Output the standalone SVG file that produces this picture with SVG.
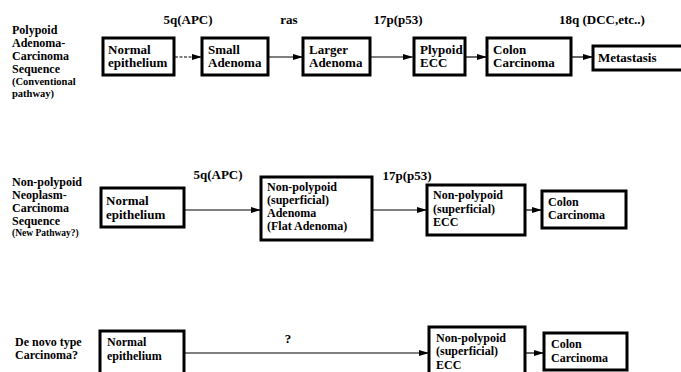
<svg xmlns="http://www.w3.org/2000/svg" width="681" height="372" viewBox="0 0 681 372">
<defs>
<marker id="ah" markerWidth="10" markerHeight="6" refX="10" refY="3" orient="auto" markerUnits="userSpaceOnUse">
<path d="M0,0 L10,3 L0,6 Z" fill="#000"/>
</marker>
<style>
text{font-family:"Liberation Serif","Times New Roman",serif;font-weight:bold;font-size:12px;fill:#000}
.lg{font-size:13px}
.sm{font-size:10.5px}
.xs{font-size:9.5px}
.box{fill:#fff;stroke:#000;stroke-width:3}
.ln{stroke:#000;stroke-width:1.2;fill:none;marker-end:url(#ah)}
</style>
</defs>
<rect width="681" height="372" fill="#fff"/>

<!-- Row labels -->
<g id="label-row1">
<text x="12" y="34">Polypoid</text>
<text x="12" y="47">Adenoma-</text>
<text x="12" y="60">Carcinoma</text>
<text x="12" y="73">Sequence</text>
<text x="12" y="85" class="sm">(Conventional</text>
<text x="12" y="97" class="sm">pathway)</text>
</g>
<g id="label-row2">
<text x="12" y="186">Non-polypoid</text>
<text x="12" y="199">Neoplasm-</text>
<text x="12" y="212">Carcinoma</text>
<text x="12" y="225">Sequence</text>
<text x="12" y="236" class="xs">(New Pathway?)</text>
</g>
<g id="label-row3">
<text x="15" y="346">De novo type</text>
<text x="15" y="359">Carcinoma?</text>
</g>

<!-- Connectors -->
<g id="connectors">
<line x1="175" y1="57" x2="202" y2="57" class="ln" stroke-dasharray="3,1.5"/>
<line x1="268" y1="57" x2="303" y2="57" class="ln" stroke="#777"/>
<line x1="370" y1="57" x2="413" y2="57" class="ln"/>
<line x1="466" y1="57" x2="487" y2="57" class="ln"/>
<line x1="572" y1="57" x2="593" y2="57" class="ln"/>
<line x1="185" y1="210" x2="261" y2="210" class="ln"/>
<line x1="373" y1="210" x2="427" y2="210" class="ln"/>
<line x1="526" y1="210" x2="542" y2="210" class="ln"/>
<line x1="185" y1="353" x2="429" y2="353" class="ln"/>
<line x1="526" y1="353" x2="544" y2="353" class="ln"/>
</g>

<!-- Connector labels -->
<g id="mutation-labels">
<text x="188" y="24" text-anchor="middle" class="lg">5q(APC)</text>
<text x="289" y="24" text-anchor="middle" class="lg">ras</text>
<text x="398" y="24" text-anchor="middle" class="lg">17p(p53)</text>
<text x="602" y="24" text-anchor="middle" class="lg">18q (DCC,etc..)</text>
<text x="218" y="179" text-anchor="middle" class="lg">5q(APC)</text>
<text x="407" y="180" text-anchor="middle" class="lg">17p(p53)</text>
<text x="288" y="343" text-anchor="middle" class="lg">?</text>
</g>

<!-- Row 1 nodes -->
<g id="r1-normal"><rect class="box" x="103" y="38" width="71" height="37"/><text x="108" y="53.5" class="lg">Normal</text><text x="108" y="67" class="lg">epithelium</text></g>
<g id="r1-small"><rect class="box" x="202" y="38" width="66" height="37"/><text x="208" y="53.5" class="lg">Small</text><text x="208" y="67" class="lg">Adenoma</text></g>
<g id="r1-larger"><rect class="box" x="303" y="38" width="67" height="37"/><text x="309" y="53.5" class="lg">Larger</text><text x="309" y="67" class="lg">Adenoma</text></g>
<g id="r1-plypoid"><rect class="box" x="414" y="38" width="51" height="37"/><text x="420" y="53.5" class="lg">Plypoid</text><text x="420" y="67" class="lg">ECC</text></g>
<g id="r1-colon"><rect class="box" x="487" y="38" width="84" height="37"/><text x="493" y="53.5" class="lg">Colon</text><text x="493" y="67" class="lg">Carcinoma</text></g>
<g id="r1-metastasis"><rect class="box" x="593" y="46" width="92" height="24"/><text x="598" y="62" class="lg">Metastasis</text></g>

<!-- Row 2 nodes -->
<g id="r2-normal"><rect class="box" x="101" y="188" width="83" height="39"/><text x="106" y="205" class="lg">Normal</text><text x="106" y="218.5" class="lg">epithelium</text></g>
<g id="r2-adenoma"><rect class="box" x="261" y="177" width="111" height="63"/><text x="267" y="191">Non-polypoid</text><text x="267" y="204">(superficial)</text><text x="267" y="217">Adenoma</text><text x="267" y="230">(Flat Adenoma)</text></g>
<g id="r2-ecc"><rect class="box" x="427" y="185" width="98" height="50"/><text x="433" y="199">Non-polypoid</text><text x="433" y="212.5">(superficial)</text><text x="433" y="226">ECC</text></g>
<g id="r2-colon"><rect class="box" x="542" y="191" width="84" height="37"/><text x="548" y="205.5">Colon</text><text x="548" y="219">Carcinoma</text></g>

<!-- Row 3 nodes -->
<g id="r3-normal"><rect class="box" x="100" y="331" width="84" height="45"/><text x="107" y="346">Normal</text><text x="107" y="359.5">epithelium</text></g>
<g id="r3-ecc"><rect class="box" x="429" y="327" width="96" height="50"/><text x="436" y="341.5">Non-polypoid</text><text x="436" y="355">(superficial)</text><text x="436" y="368.5">ECC</text></g>
<g id="r3-colon"><rect class="box" x="544" y="333" width="83" height="37"/><text x="551" y="348">Colon</text><text x="551" y="361.5">Carcinoma</text></g>
</svg>
